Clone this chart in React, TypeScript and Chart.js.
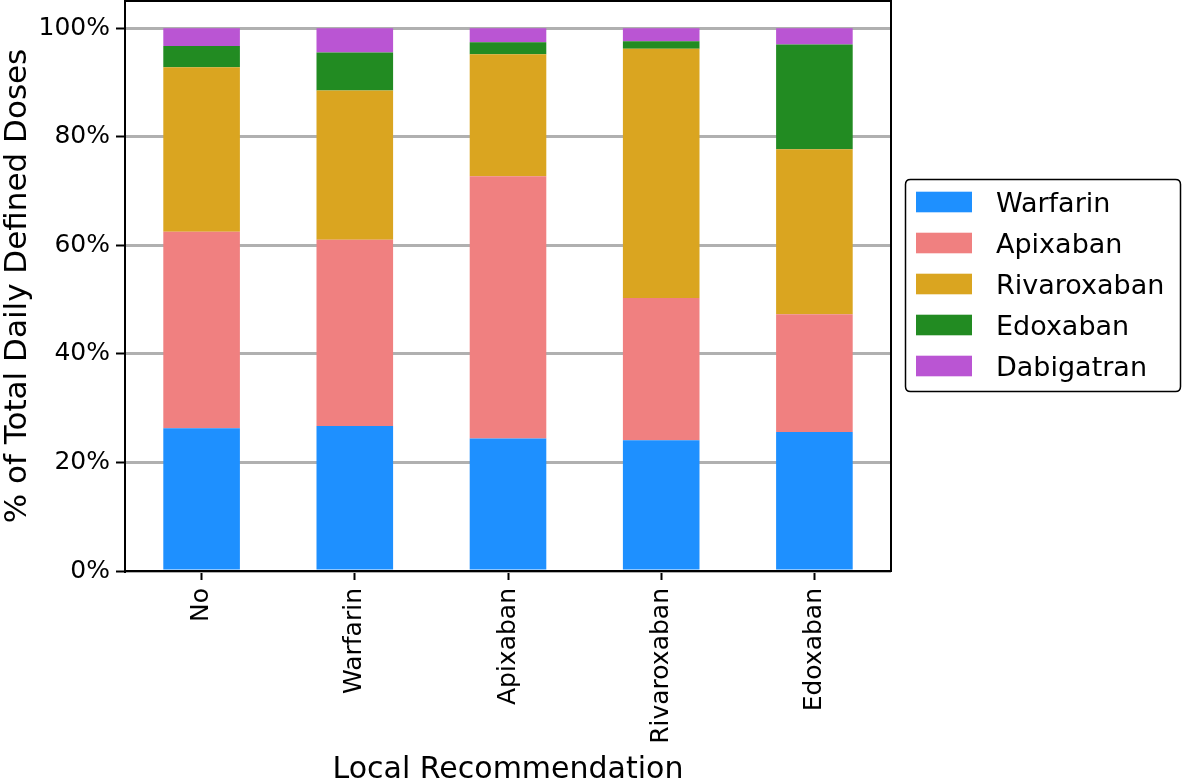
import React, { useEffect, useRef } from 'react';
import { Chart, registerables } from 'chart.js';

Chart.register(...registerables);

const categories = ['No', 'Warfarin', 'Apixaban', 'Rivaroxaban', 'Edoxaban'];
const seriesNames = ['Warfarin', 'Apixaban', 'Rivaroxaban', 'Edoxaban', 'Dabigatran'];
const warfarin = [26.3, 26.7, 24.4, 24.1, 25.6];
const apixaban = [36.2, 34.3, 48.3, 26.2, 21.7];
const rivaroxaban = [30.3, 27.5, 22.5, 45.9, 30.4];
const edoxaban = [3.9, 7.0, 2.2, 1.4, 19.3];
const dabigatran = [3.3, 4.5, 2.6, 2.4, 3.0];
const yTicks = [0, 20, 40, 60, 80, 100];
const colors = ['#1e90ff', '#f08080', '#daa520', '#228b22', '#ba55d3'];

const FONT = "'DejaVu Sans', sans-serif";

const frameBox = {
  id: 'frameBox',
  afterDatasetsDraw(chart: any) {
    const { ctx, chartArea } = chart;
    ctx.save();
    ctx.strokeStyle = '#000';
    ctx.lineWidth = 2;
    ctx.beginPath();
    ctx.moveTo(chartArea.left, chartArea.top);
    ctx.lineTo(chartArea.right, chartArea.top);
    ctx.lineTo(chartArea.right, chartArea.bottom);
    ctx.stroke();
    ctx.restore();
  },
};

const legendBox = {
  id: 'legendBox',
  afterDraw(chart: any) {
    const ctx = chart.ctx;
    ctx.save();
    const x0 = 905.5, y0 = 179.5, w = 275, h = 212, r = 5;
    ctx.beginPath();
    ctx.moveTo(x0 + r, y0);
    ctx.lineTo(x0 + w - r, y0);
    ctx.quadraticCurveTo(x0 + w, y0, x0 + w, y0 + r);
    ctx.lineTo(x0 + w, y0 + h - r);
    ctx.quadraticCurveTo(x0 + w, y0 + h, x0 + w - r, y0 + h);
    ctx.lineTo(x0 + r, y0 + h);
    ctx.quadraticCurveTo(x0, y0 + h, x0, y0 + h - r);
    ctx.lineTo(x0, y0 + r);
    ctx.quadraticCurveTo(x0, y0, x0 + r, y0);
    ctx.closePath();
    ctx.fillStyle = '#fff';
    ctx.fill();
    ctx.strokeStyle = '#000';
    ctx.lineWidth = 1.5;
    ctx.stroke();
    chart.data.datasets.forEach((ds: any, i: number) => {
      const cy = 202 + i * 41;
      ctx.fillStyle = ds.backgroundColor;
      ctx.fillRect(916, cy - 10.3, 56, 20.6);
      ctx.fillStyle = '#000';
      ctx.font = `27px ${FONT}`;
      ctx.textAlign = 'left';
      ctx.textBaseline = 'alphabetic';
      ctx.fillText(ds.label, 996, cy + 9.8);
    });
    ctx.restore();
  },
};

export default function App() {
  const ref = useRef<HTMLCanvasElement>(null);
  useEffect(() => {
    if (!ref.current) return;
    const values = [warfarin, apixaban, rivaroxaban, edoxaban, dabigatran];
    const chart = new Chart(ref.current, {
      type: 'bar',
      data: {
        labels: categories,
        datasets: seriesNames.map((name, i) => ({
          label: name,
          data: values[i],
          backgroundColor: colors[i],
          borderWidth: 0,
          barPercentage: 0.5,
          categoryPercentage: 1.0,
        })),
      },
      options: {
        responsive: false,
        animation: false,
        devicePixelRatio: 1,
        layout: { padding: { left: 0, top: 1, right: 291, bottom: 0 } },
        plugins: {
          legend: { display: false },
          tooltip: { enabled: false },
        },
        scales: {
          x: {
            stacked: true,
            grid: {
              display: true,
              offset: false,
              drawOnChartArea: false,
              drawTicks: true,
              tickLength: 9,
              tickColor: '#000',
              tickWidth: 2,
            },
            border: { display: true, color: '#000', width: 2 },
            ticks: {
              autoSkip: false,
              minRotation: 90,
              maxRotation: 90,
              padding: 8,
              color: '#000',
              font: { family: FONT, size: 25 },
            },
            title: {
              display: true,
              text: 'Local Recommendation',
              color: '#000',
              font: { family: FONT, size: 30, lineHeight: 1.2 },
              padding: { top: 0, bottom: -8 },
            },
            afterFit(scale: any) {
              scale.height = 209;
              scale.paddingLeft = 0;
              scale.paddingRight = 0;
            },
          },
          y: {
            stacked: true,
            min: 0,
            max: 105,
            afterBuildTicks(scale: any) {
              scale.ticks = yTicks.map((v) => ({ value: v }));
            },
            grid: {
              color: '#b0b0b0',
              lineWidth: 3,
              drawTicks: true,
              tickLength: 9,
              tickColor: '#000',
              tickWidth: 2,
            },
            border: { display: true, color: '#000', width: 2 },
            ticks: {
              padding: 6,
              color: '#000',
              font: { family: FONT, size: 25 },
              callback: (v: any) => `${v}%`,
            },
            title: {
              display: true,
              text: '% of Total Daily Defined Doses',
              color: '#000',
              font: { family: FONT, size: 31, lineHeight: 1.2 },
              padding: { top: -1, bottom: 0 },
            },
            afterFit(scale: any) {
              scale.width = 125;
              scale.paddingTop = 0;
              scale.paddingBottom = 0;
            },
          },
        },
      },
      plugins: [frameBox, legendBox],
    });
    return () => chart.destroy();
  }, []);
  return (
    <div style={{ position: 'fixed', left: 0, top: 0, width: 1182, height: 780, background: '#fff', overflow: 'hidden' }}>
      <canvas ref={ref} width={1182} height={780} style={{ display: 'block' }} />
    </div>
  );
}
